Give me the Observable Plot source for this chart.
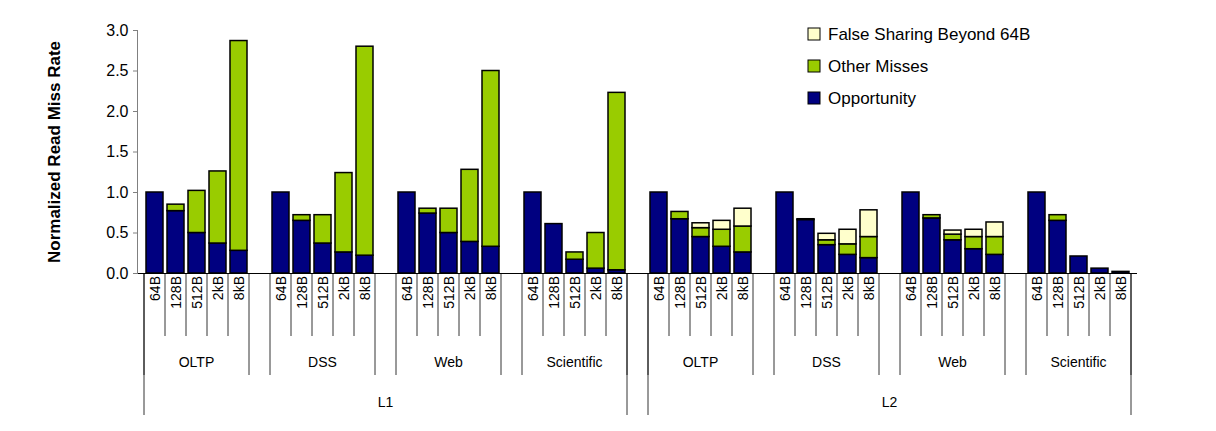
<!DOCTYPE html>
<html><head><meta charset="utf-8">
<script src="https://cdn.jsdelivr.net/npm/d3@7"></script>
<script src="https://cdn.jsdelivr.net/npm/@observablehq/plot@0.6"></script>
<style>body{margin:0;background:#fff;font-family:"Liberation Sans",Arial,sans-serif}</style>
</head><body><div id="chart"></div>
<script>
const levels = ["L1","L2"];
const workloads = ["OLTP","DSS","Web","Scientific"];
const sizes = ["64B","128B","512B","2kB","8kB"];
const series = ["False Sharing Beyond 64B","Other Misses","Opportunity"];
const colors = ["#ffffcc","#99cc00","#000080"];
// per level, per workload, per size: top of each stacked layer
const opportunity = {
  L1:[[1,0.77,0.5,0.37,0.28],[1,0.65,0.37,0.26,0.22],[1,0.74,0.5,0.39,0.33],[1,0.61,0.17,0.06,0.04]],
  L2:[[1,0.67,0.45,0.33,0.26],[1,0.66,0.35,0.23,0.19],[1,0.68,0.41,0.3,0.23],[1,0.65,0.21,0.06,0.02]]
};
const otherTop = {
  L1:[[1,0.85,1.02,1.26,2.87],[1,0.72,0.72,1.24,2.8],[1,0.8,0.8,1.28,2.5],[1,0.61,0.26,0.5,2.23]],
  L2:[[1,0.76,0.56,0.54,0.58],[1,0.67,0.41,0.36,0.45],[1,0.72,0.48,0.45,0.45],[1,0.72,0.21,0.06,0.02]]
};
const fsTop = {
  L1:[[1,0.85,1.02,1.26,2.87],[1,0.72,0.72,1.24,2.8],[1,0.8,0.8,1.28,2.5],[1,0.61,0.26,0.5,2.23]],
  L2:[[1,0.76,0.62,0.65,0.8],[1,0.67,0.49,0.54,0.78],[1,0.72,0.53,0.54,0.63],[1,0.72,0.21,0.06,0.02]]
};

const slots = []; const data = []; const groups = [];
levels.forEach((L,li)=>workloads.forEach((w,wi)=>{
  const g = {level:L, workload:w, keys:[]};
  sizes.forEach((s,si)=>{
    const key = `${L}-${w}-${s}`; slots.push(key); g.keys.push(key);
    const o = opportunity[L][wi][si], t = otherTop[L][wi][si], f = fsTop[L][wi][si];
    data.push({key,size:s,series:"Opportunity",y1:0,y2:o});
    if (t>o) data.push({key,size:s,series:"Other Misses",y1:o,y2:t});
    if (f>t) data.push({key,size:s,series:"False Sharing Beyond 64B",y1:t,y2:f});
  });
  groups.push(g);
  if (!(li===1 && wi===3)) slots.push(`gap-${L}-${w}`);
}));

const table = (index, {x, color}, values, dims) => {
  const svg = d3.create("svg:g").attr("font-family","Liberation Sans, Arial, sans-serif").attr("text-anchor","start");
  const y0 = dims.height - dims.marginBottom;
  const bw = x.bandwidth(), step = x.step();
  const left = k => x(k) - (step-bw)/2, right = k => x(k) + bw + (step-bw)/2;
  const line = (x1,ya,yb)=>svg.append("line").attr("x1",x1).attr("x2",x1).attr("y1",ya).attr("y2",yb).attr("stroke","#000").attr("stroke-width",0.8);
  groups.forEach(g=>{
    g.keys.forEach((k,i)=>{
      if (i>0) line(left(k), y0, y0+63);
      svg.append("text").attr("transform",`translate(${x(k)+bw/2+5},${y0+3}) rotate(-90)`)
        .attr("text-anchor","end").attr("font-size",14).text(k.split("-")[2]);
    });
    const a = left(g.keys[0]), b = right(g.keys[4]);
    line(a, y0, y0+102); line(b, y0, y0+102);
    svg.append("text").attr("x",(a+b)/2).attr("y",y0+94).attr("text-anchor","middle").attr("font-size",14).text(g.workload);
  });
  levels.forEach(L=>{
    const gs = groups.filter(g=>g.level===L);
    const a = left(gs[0].keys[0]), b = right(gs[3].keys[4]);
    line(a, y0, y0+142); line(b, y0, y0+142);
    svg.append("text").attr("x",(a+b)/2).attr("y",y0+134).attr("text-anchor","middle").attr("font-size",14).text(L);
  });
  series.forEach((s,i)=>{
    const yy = 28 + i*32;
    svg.append("rect").attr("x",808).attr("y",yy).attr("width",12).attr("height",12).attr("fill",color(s)).attr("stroke","#000");
    svg.append("text").attr("x",828).attr("y",yy+12).attr("text-anchor","start").attr("font-size",17).text(s);
  });
  return svg.node();
};

const chart = Plot.plot({
  width:1216, height:431, marginLeft:137, marginRight:79, marginTop:30, marginBottom:158,
  style:{fontFamily:"Liberation Sans, Arial, sans-serif", fontSize:"16px", background:"#fff"},
  x:{type:"band", domain:slots, paddingInner:0.2, paddingOuter:0.1, axis:null, range:[132,1142]},
  y:{domain:[0,3], label:null},
  color:{domain:series, range:colors},
  marks:[
    Plot.rectY(data,{x:"key", y1:"y1", y2:"y2", fill:"series", stroke:"#000", strokeWidth:1.5}),
    Plot.ruleY([0],{stroke:"#000"}),
    Plot.axisY({ticks:d3.range(0,3.01,0.5), tickFormat:d3.format(".1f"), tickSize:4, fontSize:16, label:null, stroke:"#808080"}),
    Plot.frame({anchor:"left", stroke:"#808080"}),
    table
  ]
});
const svg = d3.select(chart);
svg.append("text").attr("transform","translate(60,152) rotate(-90)").attr("text-anchor","middle")
  .attr("font-weight","bold").attr("font-size",17).attr("font-family","Liberation Sans, Arial, sans-serif").text("Normalized Read Miss Rate");
document.getElementById("chart").append(chart);
</script></body></html>
